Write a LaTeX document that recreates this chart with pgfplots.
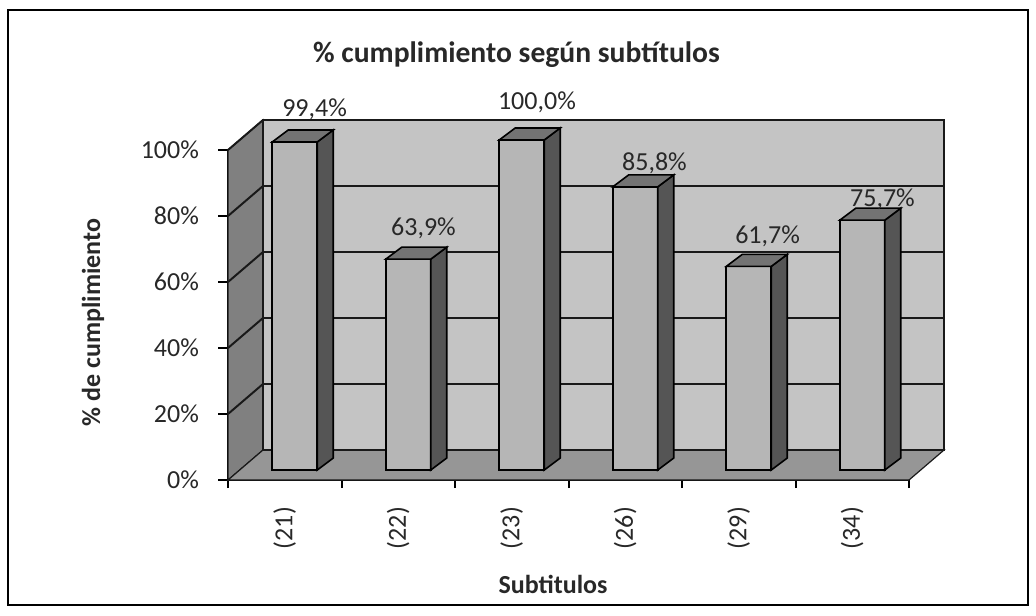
\documentclass[border=0pt]{standalone}
\usepackage{pgfplots}
\pgfplotsset{compat=1.18}
\usepackage{pgfplotstable}
\usepackage{fontspec}
\setmainfont{Carlito}
\definecolor{backwall}{RGB}{196,196,196}
\definecolor{leftwall}{RGB}{128,128,128}
\definecolor{floorcol}{RGB}{150,150,150}
\definecolor{barfront}{RGB}{182,182,182}
\definecolor{bartop}{RGB}{115,115,115}
\definecolor{barside}{RGB}{85,85,85}
\definecolor{gridcol}{RGB}{25,25,25}
\definecolor{txt}{RGB}{40,40,40}

% x: category index, val: percentage, lx/ly: data label offset (pt)
\pgfplotstableread{
x val lx ly
0 99.4 14.9 21.5
1 63.9 12.6 20.3
2 100.0 12.6 24.0
3 85.8 14.6 17.0
4 61.7 14.4 20.0
5 75.7 15.1 15.4
}\datatable

\begin{document}
\begin{tikzpicture}
\useasboundingbox (0pt,0pt) rectangle (518pt,307.5pt);
\fill[white] (0pt,0pt) rectangle (518pt,307.5pt);
\draw[line width=1pt] (4pt,5pt) rectangle (514pt,302.5pt);
\begin{axis}[
  at={(114pt,67.5pt)}, anchor=south west,
  scale only axis, width=340.5pt, height=165pt,
  xmin=-0.5, xmax=5.5, ymin=0, ymax=100,
  clip=false,
  axis lines*=left,
  axis line style={line width=1pt, black},
  tick align=outside,
  major tick length=5pt,
  minor tick length=4pt,
  tick style={line width=1pt, black},
  ytick={0,20,40,60,80,100},
  yticklabels={0\%,20\%,40\%,60\%,80\%,100\%},
  xtick={0,1,2,3,4,5},
  xticklabels={(21),(22),(23),(26),(29),(34)},
  major x tick style={draw=none},
  minor xtick={-0.5,0.5,1.5,2.5,3.5,4.5,5.5},
  tick label style={font=\fontsize{13}{15}\selectfont, text=txt},
  xticklabel style={yshift=-5pt, rotate=90, anchor=east},
  yticklabel style={xshift=-6pt},
  /pgf/number format/assume math mode=true,
]
% left wall
\fill[leftwall, draw=gridcol, line width=0.6pt] (axis cs:-0.5,0) -- ([xshift=17.5pt,yshift=15pt]axis cs:-0.5,0) -- ([xshift=17.5pt,yshift=15pt]axis cs:-0.5,100) -- (axis cs:-0.5,100) -- cycle;
% floor
\fill[floorcol, draw=gridcol, line width=0.6pt] (axis cs:-0.5,0) -- (axis cs:5.5,0) -- ([xshift=17.5pt,yshift=15pt]axis cs:5.5,0) -- ([xshift=17.5pt,yshift=15pt]axis cs:-0.5,0) -- cycle;
% back wall
\fill[backwall, draw=gridcol, line width=0.6pt] ([xshift=17.5pt,yshift=15pt]axis cs:-0.5,0) rectangle ([xshift=17.5pt,yshift=15pt]axis cs:5.5,100);
\pgfplotsinvokeforeach{20,40,60,80}{
  \draw[gridcol, line width=1pt] ([xshift=17.5pt,yshift=15pt]axis cs:-0.5,#1) -- ([xshift=17.5pt,yshift=15pt]axis cs:5.5,#1);
}
\pgfplotsinvokeforeach{20,40,60,80,100}{
  \draw[gridcol, line width=1pt] (axis cs:-0.5,#1) -- ([xshift=17.5pt,yshift=15pt]axis cs:-0.5,#1);
}
% bar front faces
\addplot[ybar, bar width=22.5pt, bar shift=0pt, xshift=5pt, yshift=5pt,
  fill=barfront, draw=black, line width=0.8pt]
  table[x=x, y=val]{\datatable};
% bar side and top faces
\addplot[scatter, only marks, mark=*, mark size=1pt,
  point meta=\thisrow{val},
  visualization depends on={\thisrow{val} \as \barval},
  scatter/@pre marker code/.code={%
    \pgfmathsetmacro{\hb}{5-1.65*\barval}%
    \pgfmathsetmacro{\hbb}{\hb+6}%
    \filldraw[fill=barside, draw=black, line width=0.8pt] (16.25pt,5pt) -- (24.25pt,11pt) -- (24.25pt,\hbb pt) -- (16.25pt,\hb pt) -- cycle;
    \filldraw[fill=bartop, draw=black, line width=0.8pt] (-6.25pt,5pt) -- (16.25pt,5pt) -- (24.25pt,11pt) -- (1.75pt,11pt) -- cycle;
    \begin{scope}[opacity=0]
  },
  scatter/@post marker code/.code={\end{scope}},
] table[x=x, y=val]{\datatable};
% data labels
\addplot[only marks, mark=none,
  point meta=\thisrow{val},
  visualization depends on={\thisrow{lx} \as \labx},
  visualization depends on={\thisrow{ly} \as \laby},
  nodes near coords={\pgfmathprintnumber[fixed, fixed zerofill, precision=1, use comma]{\pgfplotspointmeta}\%},
  every node near coord/.append style={anchor=center, xshift=\labx pt, yshift=\laby pt, font=\fontsize{13}{15}\selectfont, text=txt},
] table[x=x, y=val]{\datatable};
\end{axis}
\node[font=\bfseries\fontsize{14.8}{17}\selectfont, text=txt, anchor=base] at (258.25pt,276pt) {\% cumplimiento según subtítulos};
\node[font=\bfseries\fontsize{13}{15}\selectfont, text=txt, rotate=90] at (46.5pt,146.25pt) {\% de cumplimiento};
\node[font=\bfseries\fontsize{13}{15}\selectfont, text=txt, anchor=base] at (276.5pt,11pt) {Subtitulos};
\end{tikzpicture}
\end{document}
